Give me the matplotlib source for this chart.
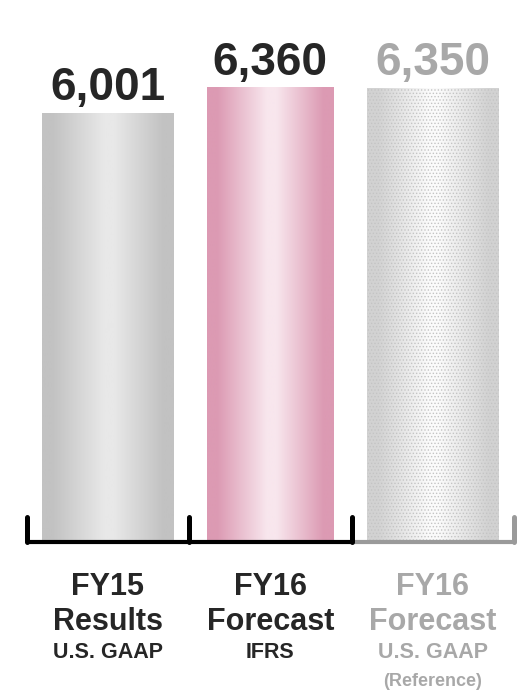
import matplotlib.pyplot as plt
import matplotlib.transforms as mtransforms
import numpy as np
from matplotlib.colors import LinearSegmentedColormap

plt.rcParams['font.family'] = ['Liberation Sans', 'DejaVu Sans']
plt.rcParams['hatch.linewidth'] = 0.6

# data
categories = ['FY15', 'FY16', 'FY16']
line2 = ['Results', 'Forecast', 'Forecast']
line3 = ['U.S. GAAP', 'IFRS', 'U.S. GAAP']
line4 = ['', '', '(Reference)']
values = [6001, 6360, 6350]

# bar gradient colours (edge, centre) and text colours
edge_colors = ['#c2c2c2', '#dc9ab3', '#d2d2d2']
center_colors = ['#e8e8e8', '#f8e6ed', '#fbfbfb']
text_colors = ['#262626', '#262626', '#a8a8a8']
bar_widths = [0.81, 0.78, 0.81]

W, H = 521, 699
fig = plt.figure(figsize=(W / 100, H / 100), dpi=100)

# axes: x from first to last boundary tick, y baseline at 542 px from top
px_per_val = 455 / 6360
ymax = 7000
left, right = 26.5 / W, 514 / W
bottom = (H - 542) / H
height = ymax * px_per_val / H
ax = fig.add_axes([left, bottom, right - left, height])
ax.set_xlim(-0.5, 2.5)
ax.set_ylim(0, ymax)
ax.axis('off')

x = np.arange(len(values))
bars = ax.bar(x, values, width=bar_widths, color='none', edgecolor='none', zorder=2)

grad = np.linspace(0, 1, 256).reshape(1, -1)
for i, b in enumerate(bars):
    cmap = LinearSegmentedColormap.from_list(
        f'g{i}',
        [(0.0, edge_colors[i]), (0.08, edge_colors[i]), (0.47, center_colors[i]),
         (0.55, center_colors[i]), (0.92, edge_colors[i]), (1.0, edge_colors[i])])
    x0, w = b.get_x(), b.get_width()
    im = ax.imshow(grad, cmap=cmap, aspect='auto', extent=[x0, x0 + w, 0, b.get_height()],
                   zorder=1, interpolation='bilinear')
    im.set_clip_path(b)
    if i == 2:
        b.set_hatch('.....')
        b.set_edgecolor('#c4c4c4')
        b.set_linewidth(0)

ax.set_xlim(-0.5, 2.5)
ax.set_ylim(0, ymax)

# value labels
for i, v in enumerate(values):
    ax.annotate(f'{v:,}', (x[i], v), xytext=(0, 9), textcoords='offset points',
                ha='center', va='baseline', fontsize=33, fontweight='bold',
                color=text_colors[i], annotation_clip=False)

# baseline and boundary ticks
tr = ax.get_xaxis_transform()
tick_h = 25 / (ymax * px_per_val)
ax.plot([-0.5, 1.5], [0, 0], color='black', lw=3, transform=tr, clip_on=False,
        solid_capstyle='butt', zorder=3)
ax.plot([1.5, 2.5], [0, 0], color='#9a9a9a', lw=3, transform=tr, clip_on=False,
        solid_capstyle='butt', zorder=3)
for xb, c in zip([-0.5, 0.5, 1.5, 2.5], ['black', 'black', 'black', '#9a9a9a']):
    ax.plot([xb, xb], [0, tick_h], color=c, lw=3.6, transform=tr, clip_on=False,
            solid_capstyle='round', zorder=3)

# category labels below the axis
tb = mtransforms.blended_transform_factory(ax.transData, fig.transFigure)
for i in range(len(values)):
    c = text_colors[i]
    ax.text(x[i], (H - 595) / H, categories[i], transform=tb, ha='center', va='baseline',
            fontsize=22, fontweight='bold', color=c)
    ax.text(x[i], (H - 630) / H, line2[i], transform=tb, ha='center', va='baseline',
            fontsize=22, fontweight='bold', color=c)
    ax.text(x[i], (H - 658) / H, line3[i], transform=tb, ha='center', va='baseline',
            fontsize=15.5, fontweight='bold', color=c)
    if line4[i]:
        ax.text(x[i], (H - 686) / H, line4[i], transform=tb, ha='center', va='baseline',
                fontsize=13, fontweight='bold', color=c)

fig.savefig('out.png', dpi=100)
